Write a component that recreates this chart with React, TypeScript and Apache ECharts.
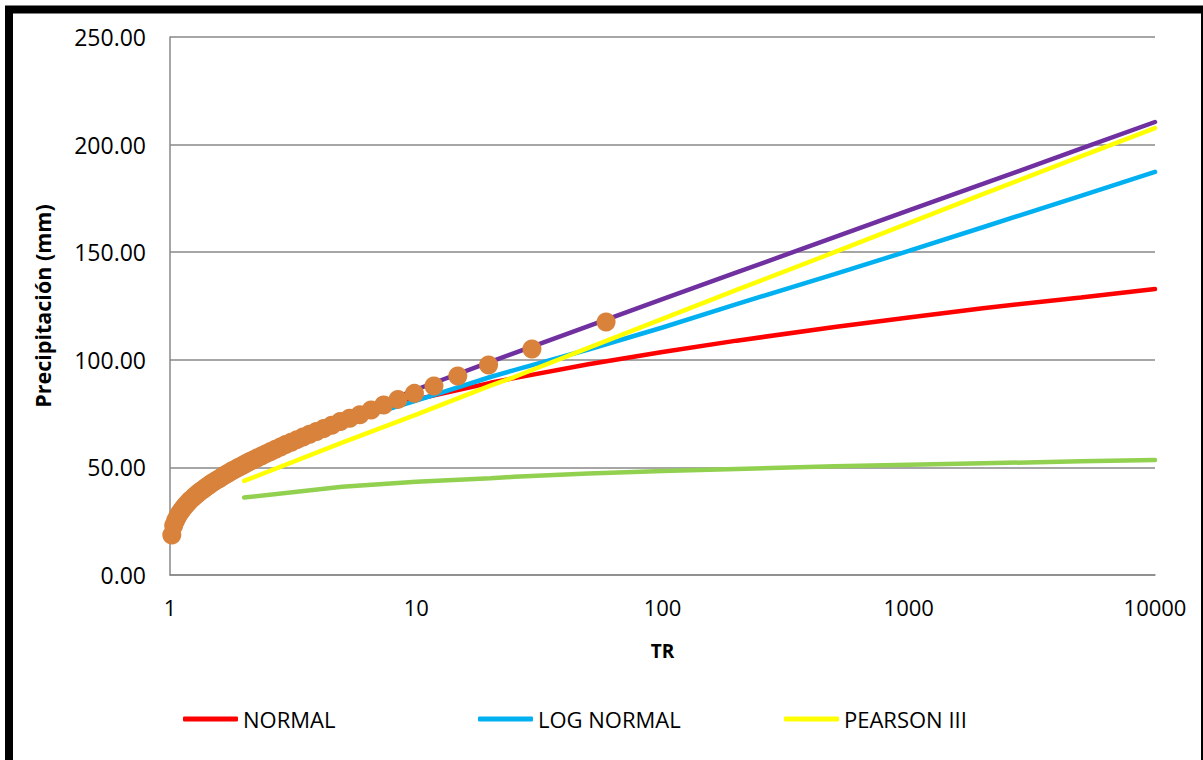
import React, { useEffect, useRef } from "react";
import * as echarts from "echarts";

// Return periods (years) used by the fitted distributions
const fitPeriods = [2, 5, 10, 20, 25, 50, 100, 200, 500, 1000, 2000, 5000, 10000];

const normalValues = [54.7, 72.4, 81.6, 89.3, 91.5, 97.9, 103.6, 108.9, 115.2, 119.7, 124.0, 129.0, 132.9];
const logNormalValues = [52.5, 70.5, 81.0, 92.0, 95.2, 104.8, 115.0, 125.9, 139.8, 150.6, 161.6, 176.2, 187.3];
const pearsonValues = [43.7, 61.5, 74.5, 88.0, 92.0, 105.5, 119.0, 132.5, 150.0, 163.5, 177.0, 194.5, 207.7];
const gumbelValues = [52.5, 72.8, 86.2, 99.0, 103.1, 115.7, 128.2, 140.6, 157.0, 169.4, 181.7, 198.1, 210.5];
const logPearsonValues = [36.0, 41.0, 43.3, 45.0, 45.6, 47.2, 48.3, 49.3, 50.5, 51.2, 51.9, 52.8, 53.4];

// Observed data (empirical return periods)
const observedPeriods = [
  59, 29.5, 19.667, 14.75, 11.8, 9.833, 8.429, 7.375, 6.556, 5.9, 5.364, 4.917, 4.538, 4.214, 3.933,
  3.688, 3.471, 3.278, 3.105, 2.95, 2.81, 2.682, 2.565, 2.458, 2.36, 2.269, 2.185, 2.107, 2.034, 1.967,
  1.903, 1.844, 1.788, 1.735, 1.686, 1.639, 1.595, 1.553, 1.513, 1.475, 1.439, 1.405, 1.372, 1.341,
  1.311, 1.283, 1.255, 1.229, 1.204, 1.18, 1.157, 1.135, 1.113, 1.093, 1.073, 1.054, 1.035, 1.017,
];
const observedValues = [
  117.6, 105.0, 97.6, 92.5, 87.8, 84.4, 81.6, 79.0, 76.7, 74.5, 72.8, 71.3, 69.6, 68.1, 66.7, 65.4,
  64.1, 62.9, 61.7, 60.6, 59.5, 58.4, 57.4, 56.4, 55.4, 54.5, 53.6, 52.7, 51.8, 50.9, 50.1, 49.2, 48.4,
  47.5, 46.7, 45.9, 45.0, 44.2, 43.4, 42.6, 41.7, 40.9, 40.0, 39.2, 38.3, 37.4, 36.5, 35.5, 34.6, 33.5,
  32.4, 31.3, 30.0, 28.7, 27.1, 25.3, 23.0, 18.6,
];

const yTicks = [0, 50, 100, 150, 200, 250];
const xTicks = [1, 10, 100, 1000, 10000];

const FONT = "'Open Sans', 'Noto Sans', sans-serif";

const pairs = (xs: number[], ys: number[]) => xs.map((x, i) => [x, ys[i]]);

export default function App() {
  const ref = useRef<HTMLDivElement>(null);
  useEffect(() => {
    if (!ref.current) return;
    const chart = echarts.init(ref.current, undefined, { renderer: "svg" });
    const lineSeries = (name: string, color: string, values: number[]) => ({
      name,
      type: "line",
      data: pairs(fitPeriods, values),
      symbol: "none",
      showSymbol: false,
      lineStyle: { color, width: 4.5, cap: "round" },
      itemStyle: { color },
    });
    const legendText = { fontFamily: FONT, fontSize: 22, color: "#000" };
    const legendItem = (name: string, left: number) => ({
      data: [name],
      left,
      top: 703,
      icon: "roundRect",
      itemWidth: 55,
      itemHeight: 5,
      itemGap: 0,
      textStyle: legendText,
      selectedMode: false,
    });
    chart.setOption({
      animation: false,
      backgroundColor: "#fff",
      grid: { left: 170, top: 37, width: 985, height: 538 },
      xAxis: {
        type: "log",
        logBase: 10,
        min: 1,
        max: 10000,
        name: "TR",
        nameLocation: "middle",
        nameGap: 66,
        nameTextStyle: { fontFamily: FONT, fontSize: 19, fontWeight: "bold", color: "#000" },
        axisLine: { show: true, lineStyle: { color: "#898989", width: 1.5 } },
        axisTick: { show: false },
        splitLine: { show: false },
        minorSplitLine: { show: false },
        axisLabel: {
          fontFamily: FONT,
          fontSize: 22,
          color: "#000",
          margin: 21,
          formatter: (v: number) => {
            const t = xTicks.find((k) => Math.abs(k - v) / k < 1e-6);
            return t !== undefined ? String(t) : "";
          },
        },
      },
      yAxis: {
        type: "value",
        min: yTicks[0],
        max: yTicks[yTicks.length - 1],
        interval: 50,
        name: "Precipitación (mm)",
        nameLocation: "middle",
        nameGap: 117,
        nameRotate: 90,
        nameTextStyle: { fontFamily: FONT, fontSize: 21.5, fontWeight: "bold", color: "#000" },
        axisLine: { show: true, lineStyle: { color: "#898989", width: 1.5 } },
        axisTick: { show: false },
        splitLine: { show: true, lineStyle: { color: "#898989", width: 1.5 } },
        axisLabel: {
          fontFamily: FONT,
          fontSize: 23,
          color: "#000",
          margin: 24,
          formatter: (v: number) => v.toFixed(2),
        },
      },
      legend: [
        legendItem("NORMAL", 178),
        legendItem("LOG NORMAL", 473),
        legendItem("PEARSON III", 779),
      ],
      graphic: [
        {
          type: "rect",
          shape: { x: 9, y: 9.5, width: 1196, height: 800 },
          style: { fill: "none", stroke: "#000", lineWidth: 8 },
          z: 100,
          silent: true,
        },
      ],
      series: [
        lineSeries("NORMAL", "#FF0000", normalValues),
        lineSeries("LOG NORMAL", "#00B0F0", logNormalValues),
        lineSeries("PEARSON III", "#FFFF00", pearsonValues),
        lineSeries("GUMBEL", "#7030A0", gumbelValues),
        lineSeries("LOG PEARSON III", "#92D050", logPearsonValues),
        {
          name: "DATOS",
          type: "scatter",
          data: pairs(observedPeriods, observedValues),
          symbol: "circle",
          symbolSize: 19,
          itemStyle: { color: "#D8823B", opacity: 1 },
          z: 10,
        },
      ],
    });
    return () => chart.dispose();
  }, []);
  return (
    <div
      ref={ref}
      style={{ position: "fixed", left: 0, top: 0, width: 1203, height: 760, background: "#fff" }}
    />
  );
}
